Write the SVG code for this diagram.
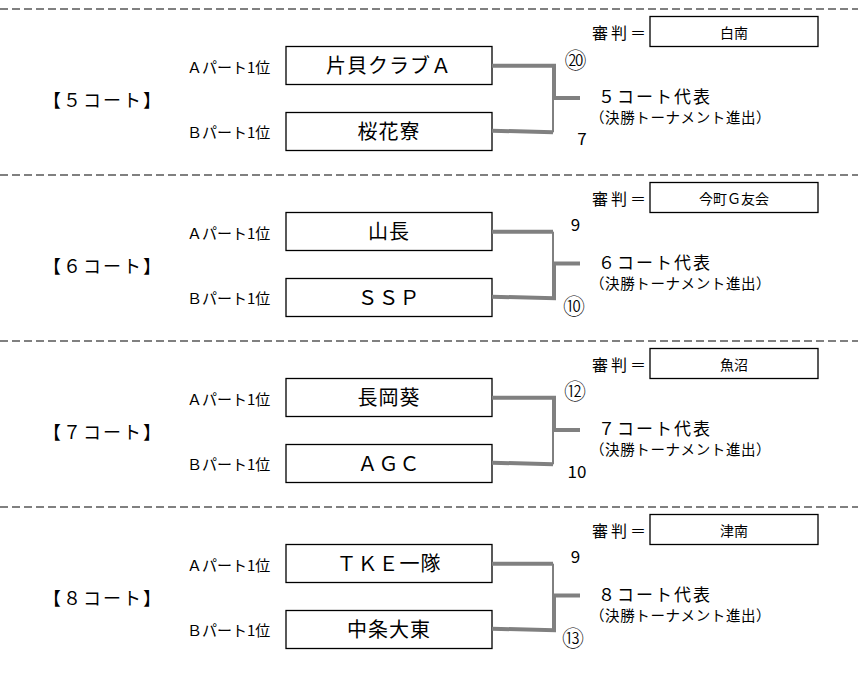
<svg xmlns="http://www.w3.org/2000/svg" width="858" height="685" viewBox="0 0 858 685">
<style>
  text { font-family: "Noto Sans CJK JP", "Noto Sans", sans-serif; fill: #000; }
  .sep { stroke: #808080; stroke-width: 2; stroke-dasharray: 8 4; fill: none; }
  .box { fill: #fff; stroke: #000; stroke-width: 1.3; }
  .court { font-size: 18px; letter-spacing: 2px; }
  .part { font-size: 15px; }
  .team { font-size: 20px; text-anchor: middle; letter-spacing: 1px; }
  .ref { font-size: 16px; letter-spacing: 3px; }
  .refname { font-size: 14px; text-anchor: middle; }
  .rep { font-size: 17px; letter-spacing: 2px; }
  .sub { font-size: 14.5px; letter-spacing: 0.6px; }
  .num { font-size: 17px; text-anchor: middle; }
  .circ { font-size: 22px; text-anchor: middle; font-weight: 300; }
  .thick { stroke: #808080; stroke-width: 4; fill: none; }
  .thin { stroke: #000; stroke-width: 1; fill: none; }
</style>
<rect width="858" height="685" fill="#fff"/>
<g id="separators">
  <line class="sep" x1="0" y1="9" x2="858" y2="9"/>
  <line class="sep" x1="0" y1="175" x2="858" y2="175"/>
  <line class="sep" x1="0" y1="341" x2="858" y2="341"/>
  <line class="sep" x1="0" y1="507" x2="858" y2="507"/>
</g>

<g id="court5">
  <text class="court" x="43" y="106.5">【５コート】</text>
  <text class="part" x="187" y="72.5">Ａパート1位</text>
  <text class="part" x="187" y="137.5">Ｂパート1位</text>
  <g id="team-5a"><rect class="box" x="286" y="46.5" width="206" height="38"/><text class="team" x="389" y="72.5">片貝クラブＡ</text></g>
  <g id="team-5b"><rect class="box" x="286" y="112.5" width="206" height="38"/><text class="team" x="389" y="138.5">桜花寮</text></g>
  <g id="ref-5"><text class="ref" x="592" y="39">審判＝</text><rect class="box" x="650" y="16.5" width="168" height="30"/><text class="refname" x="734" y="38">白南</text></g>
  <text class="rep" x="598" y="102.5">５コート代表</text>
  <text class="sub" x="590" y="123">（決勝トーナメント進出）</text>
  <text class="circ" x="575.5" y="67.5">⑳</text>
  <text class="num" x="582" y="145">7</text>
</g>

<g id="court6">
  <text class="court" x="43" y="272.5">【６コート】</text>
  <text class="part" x="187" y="238.5">Ａパート1位</text>
  <text class="part" x="187" y="303.5">Ｂパート1位</text>
  <g id="team-6a"><rect class="box" x="286" y="212.5" width="206" height="38"/><text class="team" x="389" y="238.5">山長</text></g>
  <g id="team-6b"><rect class="box" x="286" y="278.5" width="206" height="38"/><text class="team" x="389" y="304.5">ＳＳＰ</text></g>
  <g id="ref-6"><text class="ref" x="592" y="205">審判＝</text><rect class="box" x="650" y="182.5" width="168" height="30"/><text class="refname" x="734" y="204">今町Ｇ友会</text></g>
  <text class="rep" x="598" y="268.5">６コート代表</text>
  <text class="sub" x="590" y="289">（決勝トーナメント進出）</text>
  <text class="num" x="575.5" y="231">9</text>
  <text class="circ" x="574" y="314">⑩</text>
</g>

<g id="court7">
  <text class="court" x="43" y="438.5">【７コート】</text>
  <text class="part" x="187" y="404.5">Ａパート1位</text>
  <text class="part" x="187" y="469.5">Ｂパート1位</text>
  <g id="team-7a"><rect class="box" x="286" y="378.5" width="206" height="38"/><text class="team" x="389" y="404.5">長岡葵</text></g>
  <g id="team-7b"><rect class="box" x="286" y="444.5" width="206" height="38"/><text class="team" x="389" y="470.5">ＡＧＣ</text></g>
  <g id="ref-7"><text class="ref" x="592" y="371">審判＝</text><rect class="box" x="650" y="348.5" width="168" height="30"/><text class="refname" x="734" y="370">魚沼</text></g>
  <text class="rep" x="598" y="434.5">７コート代表</text>
  <text class="sub" x="590" y="455">（決勝トーナメント進出）</text>
  <text class="circ" x="575" y="399">⑫</text>
  <text class="num" x="577" y="477.5">10</text>
</g>

<g id="court8">
  <text class="court" x="43" y="604.5">【８コート】</text>
  <text class="part" x="187" y="570.5">Ａパート1位</text>
  <text class="part" x="187" y="635.5">Ｂパート1位</text>
  <g id="team-8a"><rect class="box" x="286" y="544.5" width="206" height="38"/><text class="team" x="389" y="570.5">ＴＫＥ一隊</text></g>
  <g id="team-8b"><rect class="box" x="286" y="610.5" width="206" height="38"/><text class="team" x="389" y="636.5">中条大東</text></g>
  <g id="ref-8"><text class="ref" x="592" y="537">審判＝</text><rect class="box" x="650" y="514.5" width="168" height="30"/><text class="refname" x="734" y="536">津南</text></g>
  <text class="rep" x="598" y="600.5">８コート代表</text>
  <text class="sub" x="590" y="621">（決勝トーナメント進出）</text>
  <text class="num" x="575.5" y="562.5">9</text>
  <text class="circ" x="573" y="645.5">⑬</text>
</g>

<g id="connectors">
  <!-- court 5: top wins -->
  <path class="thin" d="M553,132.3 V98"/>
  <path class="thick" d="M492,65.7 H554 V98 H580"/>
  <path class="thick" d="M492,130.7 L553,132.3"/>
  <!-- court 6: bottom wins -->
  <path class="thin" d="M553,231.7 V263.5"/>
  <path class="thick" d="M492,231.7 H553"/>
  <path class="thick" d="M492,296.7 L554,298.3 V263.5 H580"/>
  <!-- court 7: top wins -->
  <path class="thin" d="M553,464.3 V430"/>
  <path class="thick" d="M492,397.7 H554 V430 H580"/>
  <path class="thick" d="M492,462.7 L553,464.3"/>
  <!-- court 8: bottom wins -->
  <path class="thin" d="M553,563.7 V595.5"/>
  <path class="thick" d="M492,563.7 H553"/>
  <path class="thick" d="M492,628.7 L554,630.3 V595.5 H580"/>
</g>
</svg>
